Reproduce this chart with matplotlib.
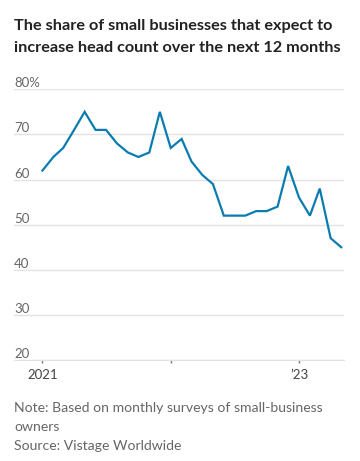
import matplotlib
matplotlib.use("Agg")
import matplotlib.pyplot as plt
import pandas as pd

# monthly survey share (%), Jan 2021 .. May 2023
months = pd.date_range("2021-01-01", periods=29, freq="MS")
share = [62, 65, 67, 71, 75, 71, 71, 68, 66, 65, 66, 75,
         67, 69, 64, 61, 59, 52, 52, 52, 53, 53, 54, 63,
         56, 52, 58, 47, 45]

y_ticks = [20, 30, 40, 50, 60, 70, 80]
y_labels = ["20", "30", "40", "50", "60", "70", "80%"]
x_ticks = [pd.Timestamp("2021-01-01"), pd.Timestamp("2022-01-01"), pd.Timestamp("2023-01-01")]
x_labels = ["2021", "", "\u201923"]

W, H = 360, 461
fig = plt.figure(figsize=(W / 100, H / 100), dpi=100)
ax = fig.add_axes([14 / W, 1 - 360 / H, 330 / W, (360 - 89.3) / H])

grey = "#666666"
ax.plot(months, share, color="#0a7cb0", lw=1.6, solid_joinstyle="miter", zorder=3)

ax.set_ylim(20, 80)
ax.set_xlim(pd.Timestamp("2020-10-12"), pd.Timestamp("2023-05-09"))
ax.set_yticks(y_ticks)
ax.set_yticklabels([])
ax.tick_params(axis="y", length=0)
ax.grid(axis="y", color="#e2e2e2", lw=1)
for v, lab in zip(y_ticks, y_labels):
    ax.text(0, v, lab, transform=ax.get_yaxis_transform(), ha="left", va="bottom",
            fontsize=9.5, color=grey, family="Lato")

ax.set_xticks(x_ticks)
ax.set_xticklabels(x_labels, fontsize=9.5, color="#444444", family="Lato")
ax.tick_params(axis="x", length=2.5, width=1, color="#777777", pad=4)

for s in ["top", "right", "left"]:
    ax.spines[s].set_visible(False)
ax.spines["bottom"].set_color("#e2e2e2")

title_lines = ["The share of small businesses that expect to",
               "increase head count over the next 12 months"]
for txt, yb in zip(title_lines, [30, 51.5]):
    fig.text(14 / W, 1 - yb / H, txt, fontsize=11.7, fontweight="bold", color="#222222",
             family="Lato", va="baseline", ha="left")

note_lines = ["Note: Based on monthly surveys of small-business", "owners", "Source: Vistage Worldwide"]
for txt, yb in zip(note_lines, [412, 431, 450]):
    fig.text(14 / W, 1 - yb / H, txt, fontsize=10.1, color=grey, family="Lato",
             va="baseline", ha="left")

fig.savefig("out.png", dpi=100)
